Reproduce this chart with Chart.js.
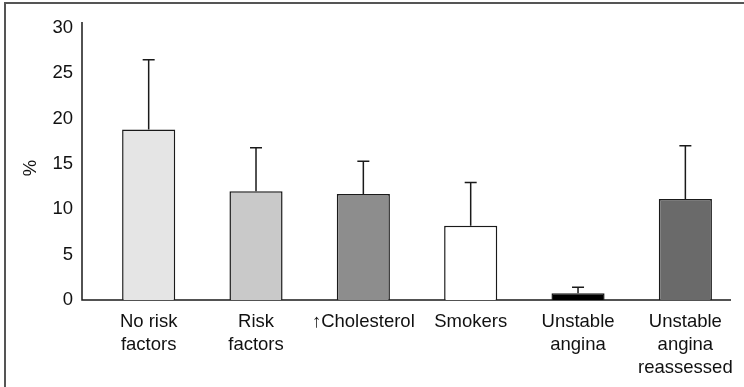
<!DOCTYPE html>
<html>
<head>
<meta charset="utf-8">
<script src="https://cdn.jsdelivr.net/npm/chart.js@4/dist/chart.umd.min.js"></script>
<style>
  html, body { margin: 0; padding: 0; background: #fff; }
  canvas { display: block; }
</style>
</head>
<body>
<canvas id="c" width="744" height="387"></canvas>
<script>
// Groups shown on the x axis (multi-line labels as arrays)
const categories = [
  ['No risk', 'factors'],
  ['Risk', 'factors'],
  '\u2191Cholesterol',
  'Smokers',
  ['Unstable', 'angina'],
  ['Unstable', 'angina', 'reassessed']
];
// Mean percentage per group
const means = [18.8, 12.0, 11.7, 8.2, 0.75, 11.15];
// Upper end of each error bar
const upperErr = [26.5, 16.8, 15.3, 12.95, 1.4, 17.0];
// Fill colour per group
const fills = ['#e5e5e5', '#c9c9c9', '#8d8d8d', '#ffffff', '#000000', '#6a6a6a'];
// Y axis tick values
const yTicks = [0, 5, 10, 15, 20, 25, 30];
const yTitle = '%';

const FONT = 'Liberation Sans, Arial, Helvetica, sans-serif';

// Frame, axis lines, y title and error bars
const decorations = {
  id: 'decorations',
  beforeDatasetsDraw(chart) {
    const { ctx, chartArea } = chart;
    const y0 = chart.scales.y.getPixelForValue(0);
    ctx.save();
    // outer frame (left and top edges)
    ctx.strokeStyle = '#555';
    ctx.lineWidth = 2;
    ctx.beginPath();
    ctx.moveTo(5, 387);
    ctx.lineTo(5, 3);
    ctx.lineTo(744, 3);
    ctx.stroke();
    // axis lines
    ctx.strokeStyle = '#1a1a1a';
    ctx.lineWidth = 1.5;
    ctx.beginPath();
    ctx.moveTo(82, chartArea.top);
    ctx.lineTo(82, y0);
    ctx.lineTo(chartArea.right - 8, y0);
    ctx.stroke();
    // rotated y-axis title
    ctx.translate(31, 168);
    ctx.rotate(-Math.PI / 2);
    ctx.fillStyle = '#111';
    ctx.font = '18.5px ' + FONT;
    ctx.textAlign = 'center';
    ctx.textBaseline = 'middle';
    ctx.fillText(yTitle, 0, 0);
    ctx.restore();
  },
  afterDatasetsDraw(chart) {
    const { ctx } = chart;
    const ys = chart.scales.y;
    const meta = chart.getDatasetMeta(0);
    ctx.save();
    ctx.strokeStyle = '#1a1a1a';
    ctx.lineWidth = 1.5;
    meta.data.forEach((bar, i) => {
      const x = bar.x;
      const yTop = ys.getPixelForValue(means[i]);
      const yErr = ys.getPixelForValue(upperErr[i]);
      ctx.beginPath();
      ctx.moveTo(x, yTop);
      ctx.lineTo(x, yErr);
      ctx.moveTo(x - 6, yErr);
      ctx.lineTo(x + 6, yErr);
      ctx.stroke();
    });
    ctx.restore();
  }
};

new Chart(document.getElementById('c'), {
  type: 'bar',
  data: {
    labels: categories,
    datasets: [{
      data: means,
      backgroundColor: fills,
      borderColor: '#1a1a1a',
      borderWidth: 1.5,
      borderSkipped: 'bottom',
      barPercentage: 0.495,
      categoryPercentage: 1.0
    }]
  },
  options: {
    responsive: false,
    animation: false,
    devicePixelRatio: 1,
    layout: { padding: { top: 22, right: 4, left: 0, bottom: 0 } },
    plugins: {
      legend: { display: false },
      tooltip: { enabled: false }
    },
    scales: {
      x: {
        grid: { display: false, drawTicks: false },
        border: { display: false },
        ticks: {
          color: '#111',
          font: { family: FONT, size: 18.5, lineHeight: 1.22 },
          padding: 11,
          maxRotation: 0,
          autoSkip: false
        },
        afterFit(scale) { scale.height = 87; }
      },
      y: {
        min: 0,
        max: 30.66,
        grid: { display: false, drawTicks: false },
        border: { display: false },
        ticks: {
          stepSize: 5,
          color: '#111',
          font: { family: FONT, size: 18.5 },
          padding: 22
        },
        afterBuildTicks(scale) {
          scale.ticks = yTicks.map(v => ({ value: v }));
        },
        afterFit(scale) {
          scale.width = 95;
          scale.paddingTop = 0;
          scale.paddingBottom = 0;
        }
      }
    }
  },
  plugins: [decorations]
});
</script>
</body>
</html>
